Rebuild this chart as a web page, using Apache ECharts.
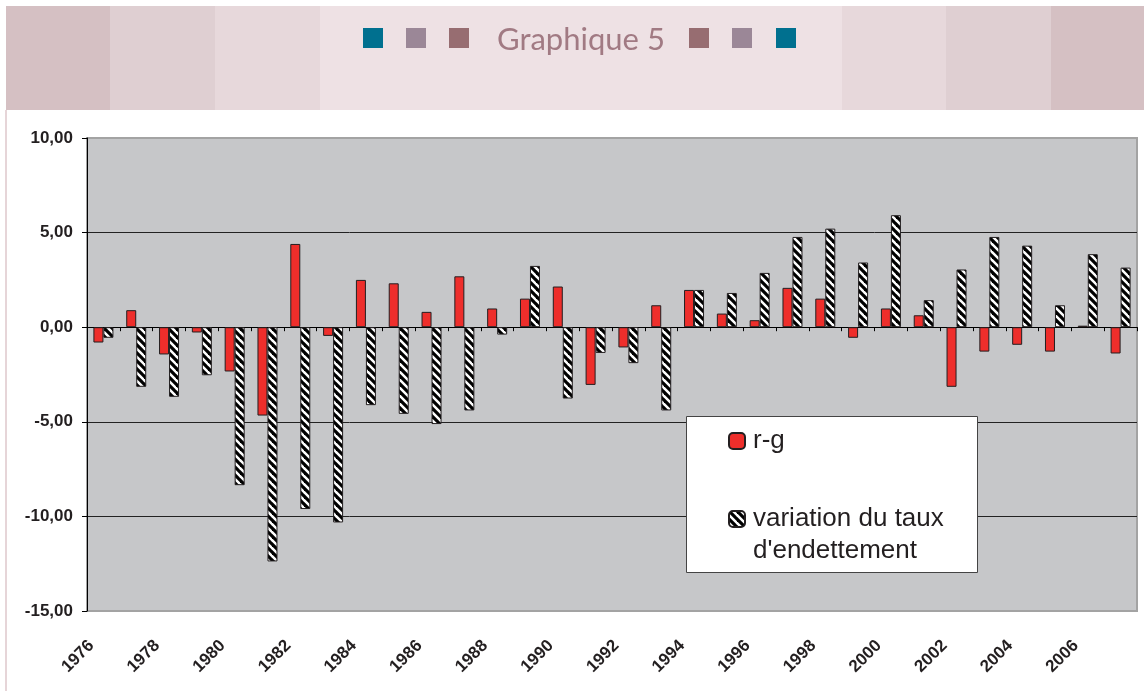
<!DOCTYPE html>
<html>
<head>
<meta charset="utf-8">
<script src="https://cdn.jsdelivr.net/npm/echarts@6/dist/echarts.min.js"></script>
<style>
html,body{margin:0;padding:0;background:#fff;}
#chart{width:1144px;height:691px;}
</style>
</head>
<body>
<div id="chart"></div>
<script>
// ---- data ----
const years = ['1976','1977','1978','1979','1980','1981','1982','1983','1984','1985','1986','1987','1988','1989','1990','1991','1992','1993','1994','1995','1996','1997','1998','1999','2000','2001','2002','2003','2004','2005','2006','2007'];
const rg = [-0.81, 0.90, -1.44, -0.28, -2.34, -4.67, 4.40, -0.46, 2.50, 2.32, 0.81, 2.69, 0.99, 1.51, 2.15, -3.05, -1.07, 1.16, 1.97, 0.72, 0.37, 2.08, 1.51, -0.56, 0.99, 0.63, -3.15, -1.29, -0.93, -1.29, 0.08, -1.39];
const debtVar = [-0.56, -3.15, -3.68, -2.54, -8.35, -12.38, -9.61, -10.32, -4.12, -4.58, -5.12, -4.40, -0.39, 3.24, -3.77, -1.36, -1.90, -4.40, 1.97, 1.81, 2.87, 4.77, 5.21, 3.42, 5.92, 1.43, 3.05, 4.77, 4.31, 1.16, 3.86, 3.15];
const seriesNames = ['r-g', 'variation du taux d\'endettement'];
const yTicks = {min: -15, max: 10, interval: 5};
const titleText = 'Graphique 5';

// hatch pattern
function hatch(){
  const c = document.createElement('canvas');
  c.width = 8; c.height = 8;
  const ctx = c.getContext('2d');
  ctx.fillStyle = '#ffffff';
  ctx.fillRect(0,0,8,8);
  ctx.strokeStyle = '#000000';
  ctx.lineWidth = 3.2;
  [-8,0,8].forEach(function(o){
    ctx.beginPath();
    ctx.moveTo(o-2,-2);
    ctx.lineTo(o+10,10);
    ctx.stroke();
  });
  return c;
}

const chart = echarts.init(document.getElementById('chart'), null, {renderer:'canvas'});
const txt = '#231f20';

const option = {
  animation: false,
  backgroundColor: '#ffffff',
  title: {
    text: titleText,
    left: 497, top: 24, padding: 0,
    textStyle: {fontFamily: 'Lato', fontSize: 31, fontWeight: 'normal', color: '#a17a83'}
  },
  graphic: [
    {type:'rect', shape:{x:6,y:6,width:104,height:104}, style:{fill:'#d5c0c3'}, silent:true},
    {type:'rect', shape:{x:110,y:6,width:105,height:104}, style:{fill:'#dfcfd2'}, silent:true},
    {type:'rect', shape:{x:215,y:6,width:105,height:104}, style:{fill:'#e7d8db'}, silent:true},
    {type:'rect', shape:{x:320,y:6,width:522,height:104}, style:{fill:'#eee1e4'}, silent:true},
    {type:'rect', shape:{x:842,y:6,width:104,height:104}, style:{fill:'#e7d8db'}, silent:true},
    {type:'rect', shape:{x:946,y:6,width:105,height:104}, style:{fill:'#dfcfd2'}, silent:true},
    {type:'rect', shape:{x:1051,y:6,width:93,height:104}, style:{fill:'#d5c0c3'}, silent:true},
    {type:'rect', shape:{x:5,y:110,width:2,height:581}, style:{fill:'#e6d5d8'}, silent:true},
    {type:'rect', shape:{x:363,y:28,width:20,height:20}, style:{fill:'#00708f'}, silent:true},
    {type:'rect', shape:{x:406,y:28,width:20,height:20}, style:{fill:'#9b8797'}, silent:true},
    {type:'rect', shape:{x:449,y:28,width:20,height:20}, style:{fill:'#976d71'}, silent:true},
    {type:'rect', shape:{x:689,y:28,width:20,height:20}, style:{fill:'#976d71'}, silent:true},
    {type:'rect', shape:{x:732,y:28,width:20,height:20}, style:{fill:'#9b8797'}, silent:true},
    {type:'rect', shape:{x:776,y:28,width:20,height:20}, style:{fill:'#00708f'}, silent:true},
    {type:'rect', z: 3, shape:{x:686.5,y:416.5,width:291,height:156}, style:{fill:'#ffffff', stroke:'#444444', lineWidth:1}, silent:true}
  ],
  legend: {
    orient: 'vertical',
    left: 728, top: 425, padding: 0,
    itemWidth: 16, itemHeight: 16, itemGap: 14,
    selectedMode: false,
    z: 5,
    textStyle: {fontFamily: 'Liberation Sans, Arial', fontSize: 26, color: txt, lineHeight: 32, padding: [0,0,0,3]},
    formatter: function(name){ return name === seriesNames[1] ? '\u00a0\nvariation du taux\nd\'endettement' : name; },
    data: [seriesNames[0], seriesNames[1]]
  },
  grid: {
    left: 87, right: 7, top: 138, bottom: 80,
    show: true, backgroundColor: '#c6c7c9', borderColor: '#a3a3a3', borderWidth: 2
  },
  xAxis: [
    {
      type: 'category', data: years, position: 'bottom',
      axisLine: {onZero: true, lineStyle: {color: '#000', width: 1}},
      axisTick: {show: true, interval: 0, length: 4, lineStyle: {color: '#000', width: 1}},
      axisLabel: {show: false},
      splitLine: {show: false}
    },
    {
      type: 'category', data: years, position: 'bottom',
      axisLine: {show: false, onZero: false},
      axisTick: {show: false},
      axisLabel: {show: true, interval: 1, rotate: 45, margin: 20, padding: [0,17,0,0],
        fontFamily: 'Liberation Sans, Arial', fontWeight: 'bold', fontSize: 17, color: txt},
      splitLine: {show: false}
    }
  ],
  yAxis: {
    type: 'value', min: yTicks.min, max: yTicks.max, interval: yTicks.interval,
    axisLine: {show: true, lineStyle: {color: '#000', width: 1}},
    axisTick: {show: true, length: 5, lineStyle: {color: '#000', width: 1}},
    axisLabel: {
      margin: 14, fontFamily: 'Liberation Sans, Arial', fontWeight: 'bold', fontSize: 17, color: txt,
      formatter: function(v){ return v.toFixed(2).replace('.', ','); }
    },
    splitLine: {show: true, showMinLine: false, showMaxLine: false, lineStyle: {color: '#222', width: 1}}
  },
  series: [
    {
      name: seriesNames[0], type: 'bar', xAxisIndex: 0, data: rg,
      barWidth: 10, barGap: '0%',
      itemStyle: {color: '#ee2e2b', borderColor: '#231f20', borderWidth: 1}
    },
    {
      name: seriesNames[1], type: 'bar', xAxisIndex: 0, data: debtVar,
      barWidth: 10, barGap: '0%',
      itemStyle: {color: {image: hatch(), repeat: 'repeat'}, borderColor: '#231f20', borderWidth: 1}
    }
  ]
};
chart.setOption(option);
</script>
</body>
</html>
